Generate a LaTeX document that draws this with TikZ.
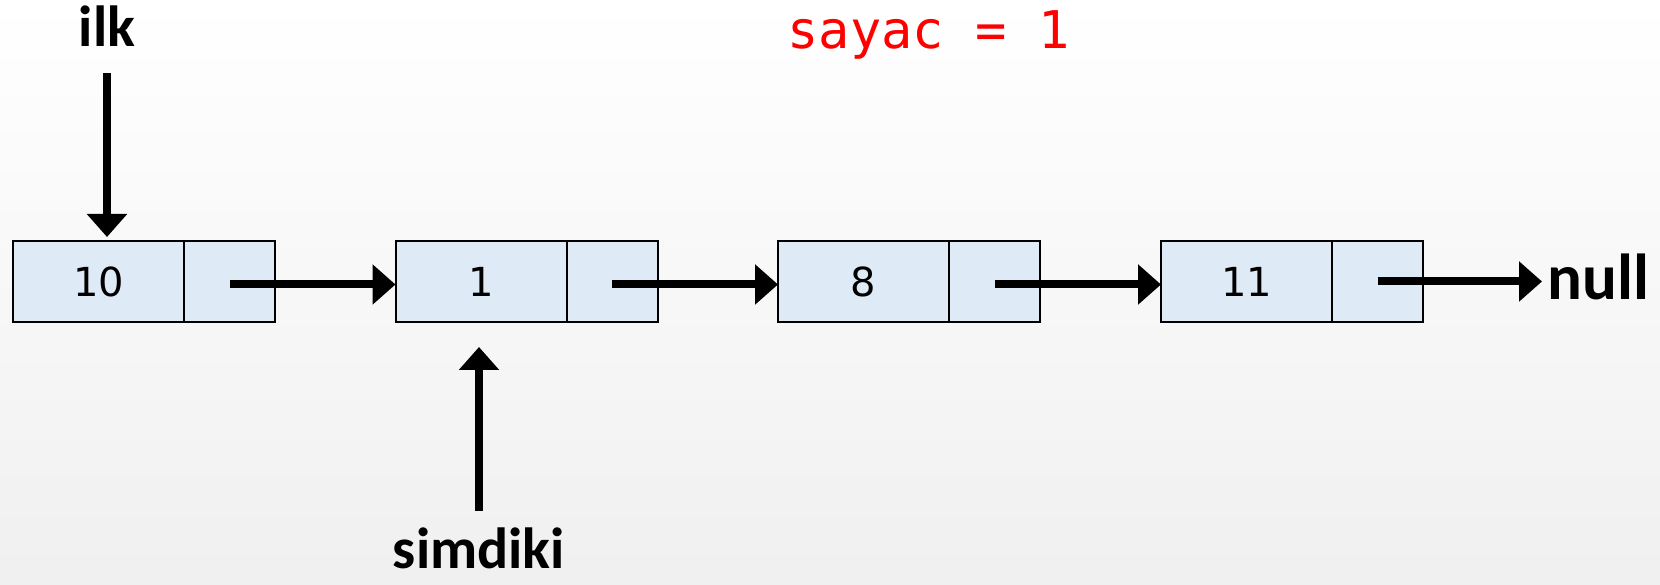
\documentclass[tikz,border=0pt]{standalone}
\usepackage{fontspec}
\setmainfont{DejaVu Sans}
\newfontfamily\lblfont{Carlito}
\newfontfamily\cntfont{DejaVu Sans Mono}
\usetikzlibrary{arrows.meta,positioning}
\definecolor{cellblue}{RGB}{222,234,246}
\definecolor{cntred}{RGB}{255,0,0}
\begin{document}
\begin{tikzpicture}[x=1pt, y=1pt,
    data/.style={draw, fill=cellblue, line width=2pt, outer sep=0pt, inner sep=0pt,
                 minimum width=171pt, minimum height=81pt, font=\fontsize{40}{48}\selectfont},
    link/.style={data, minimum width=91pt},
    lbl/.style={inner sep=0pt, font=\lblfont\bfseries\fontsize{58}{66}\selectfont},
    ptr/.style={-{Triangle[length=23pt,width=39pt]}, line width=8pt}
]
% background
\fill[top color=white, bottom color=black!6] (0,0) rectangle (1660,584);
\useasboundingbox (0,0) rectangle (1660,584);

% list cells
\node[data] (d1) at (98.5,302.5) {10};
\node[link, right=0pt of d1] (p1) {};
\node[data] (d2) at (481,302.5) {1};
\node[link, right=0pt of d2] (p2) {};
\node[data] (d3) at (863.5,302.5) {8};
\node[link, right=0pt of d3] (p3) {};
\node[data] (d4) at (1246.5,302.5) {11};
\node[link, right=0pt of d4] (p4) {};

% labels
\node[lbl, anchor=base] (ilk) at (107,537) {ilk};
\node[lbl, anchor=base] (simdiki) at (479,16) {simdiki};
\node[lbl, anchor=base west, font=\lblfont\bfseries\fontsize{65}{72}\selectfont] (nul) at (1547,284) {null};
\node[anchor=base, text=cntred, font=\cntfont\fontsize{52}{60}\selectfont] (sayac) at (928.5,535) {sayac = 1};

% pointers
\draw[ptr, shorten <=26pt, shorten >=4pt] (ilk.south) -- (ilk.south |- d1.north);
\draw[ptr, shorten <=16pt, shorten >=25pt] (simdiki.north) -- (simdiki.north |- d2.south);
\draw[ptr] ([yshift=-3pt]p1.center) -- ([yshift=-3pt]d2.west);
\draw[ptr] ([yshift=-3pt]p2.center) -- ([yshift=-3pt]d3.west);
\draw[ptr] ([yshift=-3pt]p3.center) -- ([yshift=-3pt]d4.west);
\draw[ptr, shorten >=5pt] (p4.center) -- (p4.center -| nul.west);
\end{tikzpicture}
\end{document}
